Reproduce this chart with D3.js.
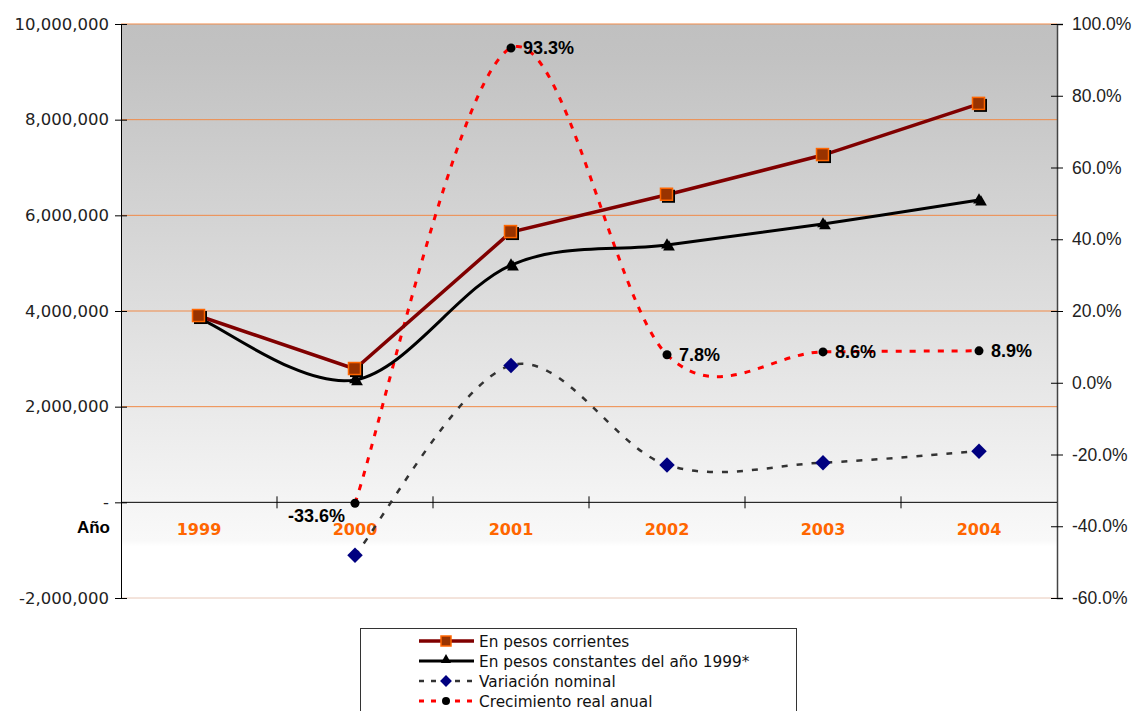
<!DOCTYPE html>
<html>
<head>
<meta charset="utf-8">
<script src="https://d3js.org/d3.v7.min.js"></script>
<style>
  body { margin: 0; background: #fff; }
  text { font-family: "Liberation Sans", Arial, sans-serif; }
</style>
</head>
<body>
<svg width="1134" height="711"></svg>
<script>
  // data
  var years = ["1999", "2000", "2001", "2002", "2003", "2004"];
  var corrientes = [3895000, 2787000, 5650000, 6430000, 7260000, 8330000];
  var constantes = [3850000, 2560000, 4960000, 5380000, 5820000, 6320000];
  var variacion = [null, -1108000, 2863000, 780000, 830000, 1070000];
  var crecimiento = [null, -33.6, 93.3, 7.8, 8.6, 8.9];
  var leftTicks = [-2000000, 0, 2000000, 4000000, 6000000, 8000000, 10000000];
  var rightTicks = [-60, -40, -20, 0, 20, 40, 60, 80, 100];
  var legendNames = ["En pesos corrientes", "En pesos constantes del año 1999*", "Variación nominal", "Crecimiento real anual"];

  var svg = d3.select("svg"),
    margin = { top: 24, right: 77, bottom: 113, left: 121 },
    width = 1134 - margin.left - margin.right,
    height = 711 - margin.top - margin.bottom,
    g = svg.append("g").attr("transform", "translate(" + margin.left + "," + margin.top + ")");

  var x = d3.scaleBand().domain(years).range([0, width]);
  var y = d3.scaleLinear().domain([-2000000, 10000000]).range([height, 0]);
  var y2 = d3.scaleLinear().domain([-60, 100]).range([height, 0]);
  var cx = function (i) { return x(years[i]) + x.bandwidth() / 2; };

  // background gradient
  var defs = svg.append("defs");
  var grad = defs.append("linearGradient").attr("id", "bg").attr("x1", 0).attr("y1", 0).attr("x2", 0).attr("y2", 1);
  grad.append("stop").attr("offset", "0%").attr("stop-color", "#c0c0c0");
  grad.append("stop").attr("offset", "6%").attr("stop-color", "#c2c2c2");
  grad.append("stop").attr("offset", "50%").attr("stop-color", "#dedede");
  grad.append("stop").attr("offset", "90%").attr("stop-color", "#f9f9f9");
  grad.append("stop").attr("offset", "91%").attr("stop-color", "#ffffff");
  grad.append("stop").attr("offset", "100%").attr("stop-color", "#ffffff");

  g.append("rect").attr("width", width).attr("height", height).attr("fill", "url(#bg)");

  // gridlines
  g.selectAll(".grid").data(leftTicks.filter(function (d) { return d !== 0; }))
    .enter().append("line")
    .attr("x1", 0).attr("x2", width)
    .attr("y1", function (d) { return y(d); }).attr("y2", function (d) { return y(d); })
    .attr("stroke", function (d) { return d === -2000000 ? "#e8c8b8" : "#f08a48"; })
    .attr("stroke-width", 1);

  // left axis
  var fmt = d3.format(",");
  var yAxis = g.append("g").call(d3.axisLeft(y).tickValues(leftTicks).tickSize(6).tickPadding(6)
    .tickFormat(function (d) { return d === 0 ? "-" : fmt(d).replace("\u2212", "-"); }));
  yAxis.select(".domain").attr("stroke", "#000");
  yAxis.selectAll(".tick line").attr("x2", -6).attr("x1", 6).attr("stroke", "#000");
  yAxis.selectAll("text").style("font-family", "'DejaVu Sans', sans-serif").style("font-size", "16.5px").attr("fill", "#222");

  // right axis
  var y2Axis = g.append("g").attr("transform", "translate(" + width + ",0)")
    .call(d3.axisRight(y2).tickValues(rightTicks).tickSize(6).tickPadding(9)
      .tickFormat(function (d) { return d.toFixed(1).replace("\u2212", "-") + "%"; }));
  y2Axis.select(".domain").attr("stroke", "#444").attr("stroke-width", 1.5);
  y2Axis.selectAll(".tick line").attr("x1", -6).attr("x2", 6).attr("stroke", "#000");
  y2Axis.selectAll("text").style("font-size", "17.5px").attr("fill", "#222");

  // category axis at zero
  var x0 = y(0);
  g.append("line").attr("x1", 0).attr("x2", width).attr("y1", x0).attr("y2", x0).attr("stroke", "#000");
  g.selectAll(".ctick").data(years.slice(1)).enter().append("line")
    .attr("x1", function (d) { return x(d); }).attr("x2", function (d) { return x(d); })
    .attr("y1", x0 - 6).attr("y2", x0 + 6).attr("stroke", "#000");
  g.selectAll(".clabel").data(years).enter().append("text")
    .attr("x", function (d) { return x(d) + x.bandwidth() / 2; })
    .attr("y", x0 + 33)
    .attr("text-anchor", "middle")
    .style("font-family", "'DejaVu Sans', sans-serif")
    .style("font-size", "16px").style("font-weight", "bold")
    .attr("fill", "#ff6600")
    .text(function (d) { return d; });
  g.append("text").attr("x", -11).attr("y", x0 + 31).attr("text-anchor", "end")
    .style("font-size", "17px").style("font-weight", "bold").attr("fill", "#000").text("Año");

  function pts(arr, sc) {
    var out = [];
    arr.forEach(function (v, i) { if (v !== null) out.push([cx(i), sc(v)]); });
    return out;
  }

  // spreadsheet-style smoothing: bezier, tangents (next - prev) / 6, ends repeat themselves
  function smooth(p) {
    var path = d3.path();
    path.moveTo(p[0][0], p[0][1]);
    for (var i = 0; i < p.length - 1; i++) {
      var p0 = p[Math.max(i - 1, 0)], p1 = p[i], p2 = p[i + 1], p3 = p[Math.min(i + 2, p.length - 1)];
      path.bezierCurveTo(
        p1[0] + (p2[0] - p0[0]) / 6, p1[1] + (p2[1] - p0[1]) / 6,
        p2[0] - (p3[0] - p1[0]) / 6, p2[1] - (p3[1] - p1[1]) / 6,
        p2[0], p2[1]);
    }
    return path.toString();
  }
  var straight = d3.line();

  // variación nominal (left axis)
  g.append("path").attr("d", smooth(pts(variacion, y))).attr("fill", "none")
    .attr("stroke", "#333").attr("stroke-width", 2.5).attr("stroke-dasharray", "6,9");
  // crecimiento real (right axis)
  g.append("path").attr("d", smooth(pts(crecimiento, y2))).attr("fill", "none")
    .attr("stroke", "#ff0000").attr("stroke-width", 3).attr("stroke-dasharray", "6,8");
  // constantes
  g.append("path").attr("d", smooth(pts(constantes, y))).attr("fill", "none")
    .attr("stroke", "#000").attr("stroke-width", 3);
  // corrientes
  g.append("path").attr("d", straight(pts(corrientes, y))).attr("fill", "none")
    .attr("stroke", "#800000").attr("stroke-width", 3.5);

  // markers
  var tri = d3.symbol().type(d3.symbolTriangle).size(60);
  pts(constantes, y).forEach(function (p) {
    g.append("path").attr("d", tri()).attr("transform", "translate(" + (p[0] + 2) + "," + (p[1] + 2) + ")").attr("fill", "#000");
    g.append("path").attr("d", tri()).attr("transform", "translate(" + p[0] + "," + p[1] + ")").attr("fill", "#000");
  });
  pts(corrientes, y).forEach(function (p) {
    g.append("rect").attr("x", p[0] - 5).attr("y", p[1] - 5).attr("width", 13).attr("height", 13).attr("fill", "#000");
    g.append("rect").attr("x", p[0] - 6.5).attr("y", p[1] - 6.5).attr("width", 12).attr("height", 12)
      .attr("fill", "#993300").attr("stroke", "#ff6600").attr("stroke-width", 1.5);
  });
  var dia = d3.symbol().type(d3.symbolSquare).size(120);
  pts(variacion, y).forEach(function (p) {
    g.append("path").attr("d", dia()).attr("transform", "translate(" + p[0] + "," + p[1] + ") rotate(45)").attr("fill", "#000080");
  });
  pts(crecimiento, y2).forEach(function (p) {
    g.append("circle").attr("cx", p[0]).attr("cy", p[1]).attr("r", 4.5).attr("fill", "#000");
  });

  // data labels
  crecimiento.forEach(function (v, i) {
    if (v === null) return;
    var neg = v < 0;
    g.append("text")
      .attr("x", neg ? cx(i) - 10 : cx(i) + 12)
      .attr("y", y2(v) + (neg ? 19 : 6))
      .attr("text-anchor", neg ? "end" : "start")
      .style("font-size", "18px").style("font-weight", "bold").attr("fill", "#000")
      .text(v.toFixed(1) + "%");
  });

  // legend
  var lg = svg.append("g").attr("transform", "translate(360,628)");
  lg.append("rect").attr("x", 0.5).attr("y", 0.5).attr("width", 436).attr("height", 100)
    .attr("fill", "#fff").attr("stroke", "#333");
  legendNames.forEach(function (name, i) {
    var ly = 13 + i * 20;
    var row = lg.append("g").attr("transform", "translate(0," + ly + ")");
    if (i === 0) {
      row.append("line").attr("x1", 59).attr("x2", 114).attr("stroke", "#800000").attr("stroke-width", 3.5);
      row.append("rect").attr("x", 81).attr("y", -5).attr("width", 10).attr("height", 10)
        .attr("fill", "#993300").attr("stroke", "#ff6600").attr("stroke-width", 1.5);
    } else if (i === 1) {
      row.append("line").attr("x1", 59).attr("x2", 114).attr("stroke", "#000").attr("stroke-width", 3);
      row.append("path").attr("d", d3.symbol().type(d3.symbolTriangle).size(45)()).attr("transform", "translate(86,-1)").attr("fill", "#000");
    } else if (i === 2) {
      row.append("line").attr("x1", 59).attr("x2", 114).attr("stroke", "#333").attr("stroke-width", 2.5).attr("stroke-dasharray", "5,7");
      row.append("path").attr("d", d3.symbol().type(d3.symbolSquare).size(70)()).attr("transform", "translate(86,0) rotate(45)").attr("fill", "#000080");
    } else {
      row.append("line").attr("x1", 59).attr("x2", 114).attr("stroke", "#ff0000").attr("stroke-width", 3).attr("stroke-dasharray", "5,7");
      row.append("circle").attr("cx", 86).attr("cy", 0).attr("r", 4).attr("fill", "#000");
    }
    row.append("text").attr("x", 119).attr("y", 6)
      .style("font-family", "'DejaVu Sans', sans-serif").style("font-size", "15.3px").attr("fill", "#111").text(name);
  });
</script>
</body>
</html>
